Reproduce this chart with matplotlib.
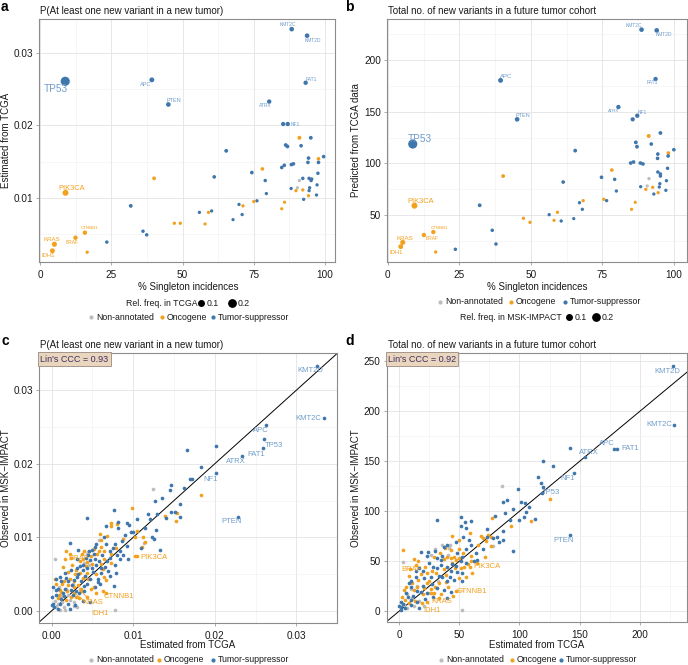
import matplotlib
matplotlib.use('Agg')
import matplotlib.pyplot as plt
from matplotlib.lines import Line2D

plt.rcParams['font.family'] = ['Liberation Sans', 'DejaVu Sans']

# ---------------- data: panel a (x = % singleton, y = P estimated from TCGA) ----------------
a_x = [8.8, 39.2, 45.0, 88.3, 93.7, 93.2, 80.4, 86.9, 85.3, 91.0, 95.0, 65.3, 86.2, 86.8, 91.6,
       94.2, 94.0, 97.7, 97.7, 99.5, 85.7, 84.8, 88.2, 88.9, 78.0, 74.3, 79.0, 61.1, 40.0, 97.5,
       92.2, 94.4, 95.3, 95.1, 91.0, 90.3, 88.1, 92.2, 89.8, 94.6, 94.4, 97.2, 97.0, 94.2, 92.5,
       79.4, 76.1, 75.0, 85.8, 84.8, 69.8, 71.2, 70.9, 67.7, 60.2, 59.1, 55.9, 57.9, 47.1, 49.2,
       31.8, 36.1, 37.4, 23.4, 8.9, 15.7, 12.4, 5.0, 4.3, 16.5]
a_y = [0.0261, 0.0263, 0.0229, 0.0333, 0.0324, 0.0259, 0.0233, 0.0202, 0.0202, 0.0183, 0.0183,
       0.0165, 0.0173, 0.0171, 0.0172, 0.0155, 0.0149, 0.0154, 0.0149, 0.0157, 0.0145, 0.0142,
       0.0146, 0.0147, 0.0140, 0.0135, 0.0124, 0.0129, 0.0127, 0.0134, 0.0127, 0.0127, 0.0126,
       0.0124, 0.0124, 0.0114, 0.0113, 0.0111, 0.0110, 0.0114, 0.0110, 0.0118, 0.0104, 0.0103,
       0.0098, 0.0106, 0.0096, 0.0095, 0.0094, 0.0085, 0.0091, 0.0089, 0.0077, 0.0070, 0.0082,
       0.0080, 0.0080, 0.0064, 0.0065, 0.0065, 0.0089, 0.0054, 0.0049, 0.0039, 0.0107, 0.0052,
       0.0045, 0.0036, 0.0027, 0.0025]
a_type = list("TTTTTTTTTOTTTTTTTOTTTTTTOTTTOTTTTTNNTOOTTTTOTTTOOOTOTTTOTOOOTTTTOOOOOO")
a_freq = [0.33, 0.07, 0.06, 0.06, 0.06, 0.05, 0.05, 0.05, 0.045, 0.035, 0.03, 0.03, 0.03, 0.03,
          0.025, 0.025, 0.025, 0.025, 0.025, 0.025, 0.025, 0.025, 0.025, 0.025, 0.025, 0.025,
          0.02, 0.025, 0.03, 0.02, 0.02, 0.02, 0.02, 0.02, 0.015, 0.012, 0.015, 0.015, 0.015,
          0.015, 0.015, 0.015, 0.015, 0.015, 0.015, 0.015, 0.015, 0.015, 0.012, 0.012, 0.015,
          0.015, 0.015, 0.012, 0.015, 0.015, 0.015, 0.012, 0.015, 0.015, 0.03, 0.02, 0.02, 0.02,
          0.12, 0.05, 0.05, 0.08, 0.07, 0.015]

# ---------------- data: panel b (x = % singleton, y = predicted no. of new variants) ----------------
b_x = [8.7, 39.4, 45.2, 88.7, 94.0, 93.6, 80.6, 87.2, 85.6, 95.3, 91.2, 86.7, 87.1, 92.1, 100.0,
       98.1, 98.0, 94.4, 94.3, 65.5, 85.9, 84.9, 88.3, 89.2, 97.8, 78.3, 74.7, 79.3, 40.3, 61.3,
       94.4, 95.3, 95.3, 91.3, 97.4, 95.1, 90.7, 88.4, 92.6, 94.9, 90.2, 94.5, 93.0, 97.2, 79.9,
       86.5, 85.2, 75.5, 76.5, 67.0, 68.3, 68.0, 65.0, 59.3, 56.4, 60.6, 58.1, 47.4, 49.7, 32.1,
       36.5, 37.8, 23.6, 16.7, 9.3, 15.9, 12.6, 5.2, 4.5]
b_y = [118.7, 180.3, 142.6, 229.4, 228.7, 181.6, 154.5, 146.1, 142.6, 129.4, 126.5, 120.3, 116.1,
       118.7, 113.2, 110.0, 107.1, 109.0, 104.8, 112.3, 101.3, 100.3, 100.3, 99.4, 95.2, 93.5,
       86.5, 84.5, 87.7, 81.9, 91.6, 89.7, 87.7, 85.2, 83.2, 80.3, 78.1, 77.4, 76.8, 77.1, 74.8,
       71.6, 70.3, 73.9, 73.2, 62.3, 55.5, 65.2, 63.9, 61.9, 63.9, 55.5, 46.5, 52.6, 50.3, 44.2,
       44.8, 46.8, 42.9, 59.4, 35.2, 21.9, 16.8, 14.2, 59.0, 33.5, 30.6, 23.5, 19.4]
b_type = list("TTTTTTTTTTOTTTTOTTTTTTTTTOTTOTTTTNTTNTOTOOTTTOOOTTOTTOTTOOOTTTTOOOOOO")
b_freq = [0.33, 0.07, 0.06, 0.06, 0.06, 0.05, 0.05, 0.05, 0.045, 0.03, 0.035, 0.03, 0.03, 0.025,
          0.025, 0.025, 0.025, 0.025, 0.025, 0.03, 0.025, 0.025, 0.025, 0.025, 0.02, 0.025, 0.025,
          0.02, 0.03, 0.025, 0.02, 0.02, 0.02, 0.015, 0.015, 0.015, 0.012, 0.015, 0.015, 0.015,
          0.015, 0.015, 0.015, 0.015, 0.015, 0.012, 0.012, 0.015, 0.015, 0.015, 0.015, 0.015,
          0.012, 0.015, 0.015, 0.015, 0.012, 0.015, 0.015, 0.03, 0.02, 0.02, 0.02, 0.015, 0.12,
          0.05, 0.05, 0.08, 0.07]

# ---------------- data: panel c (estimated from TCGA vs observed in MSK-IMPACT, probability) ----------------
c_tsg = [(0.0325, 0.0333), (0.0334, 0.0262), (0.0263, 0.0252), (0.0260, 0.0233), (0.0259, 0.0221),
         (0.0233, 0.0210), (0.0202, 0.0187), (0.0228, 0.0128), (0.0202, 0.0224), (0.0166, 0.0219),
         (0.0183, 0.0195), (0.0170, 0.0179), (0.0172, 0.0179), (0.0162, 0.0167), (0.0146, 0.0171),
         (0.0145, 0.0164), (0.0135, 0.0154), (0.0127, 0.0150), (0.0157, 0.0145), (0.0151, 0.0135),
         (0.0146, 0.0135), (0.0157, 0.0128), (0.0140, 0.0126), (0.0133, 0.0083), (0.0118, 0.0131),
         (0.0129, 0.0132), (0.0123, 0.0101), (0.0125, 0.0098), (0.0110, 0.0085), (0.0090, 0.0103),
         (0.0093, 0.0120), (0.0095, 0.0117), (0.0097, 0.0107), (0.0100, 0.0107), (0.0082, 0.0121),
         (0.0081, 0.0113), (0.0077, 0.0137), (0.0067, 0.0116), (0.0064, 0.0101), (0.0053, 0.0087),
         (0.0044, 0.0126), (0.0023, 0.0092), (0.0088, 0.0076), (0.0084, 0.0070), (0.0094, 0.0070),
         (0.0080, 0.0076), (0.0078, 0.0091), (0.0075, 0.0085), (0.0084, 0.0082), (0.0078, 0.0062),
         (0.0079, 0.0052), (0.0077, 0.0034), (0.0046, 0.0082), (0.0049, 0.0083), (0.0055, 0.0091),
         (0.0067, 0.0091), (0.0071, 0.0082), (0.0031, 0.0070), (0.0042, 0.0072), (0.0047, 0.0069),
         (0.0053, 0.0071), (0.0058, 0.0068), (0.0068, 0.0068), (0.0031, 0.0058), (0.0035, 0.0061),
         (0.0024, 0.0056), (0.0031, 0.0046), (0.0039, 0.0055), (0.0041, 0.0048), (0.0047, 0.0044),
         (0.0051, 0.0053), (0.0057, 0.0044), (0.0061, 0.0051), (0.0071, 0.0048), (0.0010, 0.0046),
         (0.0016, 0.0051), (0.0027, 0.0042), (0.0002, 0.0033), (0.0017, 0.0030), (0.0024, 0.0029),
         (0.0030, 0.0027), (0.0040, 0.0034), (0.0044, 0.0037), (0.0053, 0.0033), (0.0059, 0.0036),
         (0.0001, 0.0019), (0.0002, 0.0010), (0.0010, 0.0010), (0.0020, 0.0010), (0.0022, 0.0003),
         (0.0005, 0.0021), (0.0000, 0.0008), (0.0003, 0.0005), (0.0008, 0.0002), (0.0029, 0.0008),
         (0.0039, 0.0014), (0.0047, 0.0012), (0.0033, 0.0083), (0.0006, 0.0044), (0.0014, 0.0024),
         (0.0036, 0.0040), (0.0012, 0.0016), (0.0006, 0.0029), (0.0012, 0.0040), (0.0018, 0.0045),
         (0.0025, 0.0035), (0.0033, 0.0050), (0.0038, 0.0062), (0.0043, 0.0058), (0.0050, 0.0058),
         (0.0055, 0.0062), (0.0060, 0.0058), (0.0045, 0.0076), (0.0052, 0.0078), (0.0062, 0.0076),
         (0.0066, 0.0060), (0.0015, 0.0020), (0.0020, 0.0040), (0.0008, 0.0030), (0.0026, 0.0022),
         (0.0034, 0.0024), (0.0040, 0.0027), (0.0057, 0.0039), (0.0069, 0.0054), (0.0072, 0.0072),
         (0.0086, 0.0095), (0.0092, 0.0088), (0.0105, 0.0125), (0.0115, 0.0112), (0.0120, 0.0125),
         (0.0128, 0.0110)]
c_onc = [(0.0183, 0.0157), (0.0154, 0.0133), (0.0153, 0.0122), (0.0139, 0.0129), (0.0114, 0.0094),
         (0.0111, 0.0087), (0.0112, 0.0100), (0.0098, 0.0140), (0.0102, 0.0101), (0.0105, 0.0108),
         (0.0080, 0.0118), (0.0073, 0.0120), (0.0073, 0.0115), (0.0068, 0.0102), (0.0059, 0.0105),
         (0.0060, 0.0096), (0.0016, 0.0071), (0.0102, 0.0075), (0.0105, 0.0074), (0.0079, 0.0086),
         (0.0052, 0.0084), (0.0058, 0.0082), (0.0061, 0.0087), (0.0064, 0.0082), (0.0073, 0.0078),
         (0.0035, 0.0068), (0.0039, 0.0071), (0.0044, 0.0066), (0.0050, 0.0064), (0.0061, 0.0064),
         (0.0064, 0.0071), (0.0073, 0.0065), (0.0020, 0.0053), (0.0029, 0.0050), (0.0035, 0.0051),
         (0.0044, 0.0052), (0.0054, 0.0050), (0.0064, 0.0046), (0.0067, 0.0042), (0.0004, 0.0043),
         (0.0022, 0.0044), (0.0006, 0.0037), (0.0013, 0.0036), (0.0020, 0.0035), (0.0027, 0.0033),
         (0.0033, 0.0035), (0.0036, 0.0030), (0.0048, 0.0030), (0.0063, 0.0027), (0.0067, 0.0024),
         (0.0012, 0.0026), (0.0008, 0.0017), (0.0018, 0.0015), (0.0024, 0.0019), (0.0034, 0.0017),
         (0.0043, 0.0019), (0.0018, 0.0082), (0.0022, 0.0078), (0.0024, 0.0072), (0.0037, 0.0078),
         (0.0040, 0.0082), (0.0014, 0.0060), (0.0052, 0.0032), (0.0036, 0.0027), (0.0027, 0.0025),
         (0.0010, 0.0028), (0.0028, 0.0040), (0.0015, 0.0040), (0.0025, 0.0063), (0.0030, 0.0055),
         (0.0042, 0.0061), (0.0048, 0.0074), (0.0056, 0.0077), (0.0063, 0.0057), (0.0019, 0.0027),
         (0.0030, 0.0019), (0.0009, 0.0022), (0.0045, 0.0043), (0.0055, 0.0025), (0.0038, 0.0045),
         (0.0088, 0.0098)]
c_non = [(0.0124, 0.0166), (0.0113, 0.0092), (0.0058, 0.0097), (0.0004, 0.0070), (0.0078, 0.0001),
         (0.0043, 0.0078), (0.0009, 0.0033), (0.0004, 0.0014), (0.0006, 0.0005), (0.0013, 0.0012),
         (0.0015, 0.0006), (0.0027, 0.0012), (0.0010, 0.0001), (0.0016, 0.0001), (0.0028, 0.0007),
         (0.0020, 0.0022), (0.0011, 0.0020), (0.0031, 0.0005), (0.0046, 0.0062), (0.0018, 0.0030),
         (0.0023, 0.0015), (0.0035, 0.0030), (0.0008, 0.0010), (0.0040, 0.0065), (0.0045, 0.0080),
         (0.0026, 0.0037)]

# ---------------- data: panel d (estimated from TCGA vs observed in MSK-IMPACT, counts) ----------------
d_tsg = [(227.8, 245.7), (228.3, 186), (180.7, 162.3), (178.6, 162.3), (154.4, 154.7), (145.3, 138),
         (118.5, 118), (142, 76), (142, 163), (119.6, 150.7), (128.1, 145.3), (115.7, 134),
         (118.2, 128.7), (119.8, 124.7), (98.8, 122), (89.4, 111.3), (86.1, 109.3), (101, 109.7),
         (104.6, 108), (108, 104.7), (105.7, 99.7), (104, 94), (112.6, 92.3), (99.4, 91.3),
         (92.2, 91), (94.4, 60.7), (86.6, 80), (81.1, 74), (78, 73.3), (82.8, 69.3), (86.6, 71.3),
         (73.3, 74), (59.5, 90.3), (51.8, 94), (54.5, 89), (51.2, 85.3), (55.6, 83), (57.8, 71.3),
         (53.1, 74.7), (47, 69), (40.1, 66), (37.4, 64), (31.3, 91), (24.1, 59), (31.8, 53),
         (34.6, 51.3), (52.6, 54), (51.8, 50.7), (55.4, 48), (62.3, 50.7), (65, 51.3), (28.5, 44.7),
         (31.8, 43), (35.2, 46.3), (40.1, 44), (42.9, 40.7), (48.4, 39.7), (52.6, 38), (45.7, 31.3),
         (42.3, 34), (36, 34.7), (26.8, 34), (20.8, 33), (13.8, 34.7), (16.6, 43), (20.2, 40.7),
         (9.7, 24.7), (18, 19.7), (23.5, 18), (31.8, 23), (37.4, 21.3), (42.9, 19.7), (39.6, 13),
         (8.3, 28), (1.4, 9.7), (1.9, 4.7), (9.7, 11.3), (14.7, 9.7), (16.6, 3), (1.4, 1.3),
         (7.5, 14), (0, 5.3), (27, 27), (12, 15), (5, 3), (3.5, 7), (22, 12), (10, 6), (18, 59),
         (10, 30), (14, 40), (25, 48), (30, 60), (36, 55), (44, 47), (48, 58), (56, 62), (60, 66),
         (64, 58), (70, 62), (73, 82), (80, 95), (88, 98), (95, 102), (20, 25), (6, 18), (15, 20),
         (28, 14), (33, 35), (40, 30), (47, 45), (52, 30), (23, 55)]
d_onc = [(125.7, 112.3), (93, 85.7), (109.9, 90), (71.1, 54.7), (76.1, 74.7), (73.8, 76), (70, 73),
         (67.8, 75.3), (77.5, 93.3), (59, 78), (49.8, 71.3), (44.3, 75.3), (43.5, 61.3), (3.6, 61),
         (12.5, 52), (29.1, 54), (37.4, 52), (40.1, 54), (42.9, 53), (45.7, 54), (47, 51.3),
         (49.8, 53.3), (54, 44), (57.3, 47.3), (59.5, 50), (64.5, 48), (59.2, 44.3), (47, 20.7),
         (26.8, 18), (23.5, 9.7), (37.4, 42), (46.2, 43), (51.2, 43), (55.4, 34.7), (49.8, 33),
         (38.7, 29.7), (33.2, 28), (30.4, 38), (23.5, 38), (18.5, 37.3), (15.8, 31.3), (11.1, 28),
         (12.5, 21.3), (15.2, 24.7), (20.8, 23), (26.3, 22), (29.1, 18.7), (34.6, 17.3),
         (40.7, 24.7), (45.1, 15.3), (33.2, 13), (4.2, 21.3), (2.8, 14.7), (5.5, 24.7), (23, 28),
         (8.3, 8), (19.4, 8), (4.7, 11.3), (9, 42), (14, 46), (25, 30), (8, 35), (16, 50), (22, 44),
         (27, 40), (34, 58), (38, 63), (44, 48), (50, 62), (53, 58), (60, 55), (66, 66), (72, 70),
         (20, 17), (13, 10), (30, 24), (39, 36), (61, 38), (76, 65)]
d_non = [(85.2, 125.7), (3.6, 49), (26.3, 56), (42, 66.7), (41.8, 63), (41, 56.3), (78, 65.3),
         (6.9, 17.3), (4.2, 6.3), (6.4, 3), (12.5, 5.3), (20.8, 5.3), (11.1, 13), (52.6, 1.3),
         (17, 10), (30, 62), (15, 25), (24, 18), (32, 30), (10, 22), (36, 66)]

# gene labels: (text, x, y, fontsize)
a_labels_t = [("KMT2C", 86.8, 0.0339, 3.5), ("KMT2D", 95.7, 0.0318, 3.5), ("FAT1", 95.1, 0.0264, 3.5),
              ("APC", 37.2, 0.0257, 4.1), ("PTEN", 46.8, 0.0235, 4), ("ATRX", 78.9, 0.0227, 3.5),
              ("NF1", 89.5, 0.0202, 3.5), ("TP53", 5.6, 0.0250, 7.2)]
a_labels_o = [("PIK3CA", 11.1, 0.0113, 5.4), ("CTNNB1", 17.3, 0.0058, 3.2), ("KRAS", 4.1, 0.0042, 4.4),
              ("BRAF", 11.1, 0.0039, 3.5), ("IDH1", 2.9, 0.0020, 4.2)]
b_labels_t = [("KMT2C", 86.0, 233.5, 3.5), ("KMT2D", 96.5, 224.8, 3.5), ("FAT1", 92.4, 178.1, 3.5),
              ("APC", 41.3, 184.5, 4.3), ("ATRX", 79.1, 151.0, 3.2), ("NF1", 89.0, 149.0, 3.5),
              ("PTEN", 47.1, 146.5, 4), ("TP53", 11.2, 123.5, 7.2)]
b_labels_o = [("PIK3CA", 11.3, 63.2, 5.4), ("CTNNB1", 18.0, 37.1, 3.2), ("KRAS", 6.0, 27.1, 4.4),
              ("BRAF", 15.3, 26.8, 3.5), ("IDH1", 2.9, 13.9, 4.2)]
c_labels_t = [("KMT2D", 0.0317, 0.0326), ("KMT2C", 0.0315, 0.0261), ("APC", 0.0256, 0.0245),
              ("TP53", 0.0272, 0.0225), ("FAT1", 0.0251, 0.0213), ("ATRX", 0.0226, 0.0203),
              ("NF1", 0.0195, 0.0179), ("PTEN", 0.0221, 0.0121)]
d_labels_t = [("KMT2D", 223, 239.7), ("KMT2C", 215.9, 187), ("APC", 173, 167.7), ("FAT1", 192, 162.3),
              ("ATRX", 157.8, 158.3), ("NF1", 140.3, 132.7), ("TP53", 126.5, 119.3), ("PTEN", 137, 71)]

W, H = 688, 665
fig = plt.figure(figsize=(W / 100, H / 100), dpi=100)

BLUE = '#3f77ad'
ORANGE = '#f2a11f'
GRAY = '#bdbdbd'
LBLUE = '#6f9dcc'
COL = {'T': BLUE, 'O': ORANGE, 'N': GRAY}


def rect(l, t, r, b):
    return [l / W, 1 - b / H, (r - l) / W, (b - t) / H]


def fx(x):
    return x / W


def fy(y):
    return 1 - y / H


def style(ax, xlim, ylim, xt, yt, xminor, yminor, xfmt=None, yfmt=None):
    ax.set_xlim(xlim)
    ax.set_ylim(ylim)
    ax.set_xticks(xt)
    ax.set_yticks(yt)
    if xfmt:
        ax.set_xticklabels([xfmt % v for v in xt])
    if yfmt:
        ax.set_yticklabels([yfmt % v for v in yt])
    ax.set_xticks(xminor, minor=True)
    ax.set_yticks(yminor, minor=True)
    ax.grid(which='major', color='#e3e3e3', lw=0.6)
    ax.grid(which='minor', color='#f0f0f0', lw=0.4)
    ax.set_axisbelow(True)
    for s in ax.spines.values():
        s.set_color('#8c8c8c')
        s.set_linewidth(0.8)
    ax.tick_params(which='major', length=2, width=0.5, color='#8c8c8c', labelsize=7.2,
                   labelcolor='#1a1a1a')
    ax.tick_params(axis='x', pad=4)
    ax.tick_params(axis='y', pad=2.5)
    ax.tick_params(which='minor', length=0)


def fig_legend_colors(y, xs):
    names = ['Non-annotated', 'Oncogene', 'Tumor-suppressor']
    cols = [GRAY, ORANGE, BLUE]
    for (dx, tx), n, c in zip(xs, names, cols):
        fig.add_artist(Line2D([fx(dx)], [fy(y)], marker='o', ms=2, color=c, lw=0,
                              transform=fig.transFigure))
        fig.text(fx(tx), fy(y), n, fontsize=6.3, va='center', ha='left', color='#1a1a1a')


def fig_legend_sizes(y, title, tx, d1, d2):
    fig.text(fx(tx), fy(y), title, fontsize=6.3, va='center', ha='left', color='#1a1a1a')
    for d, v in [(d1, 0.1), (d2, 0.2)]:
        ms = (4 + 120 * v) ** 0.5
        fig.add_artist(Line2D([fx(d)], [fy(y)], marker='o', ms=ms, color='black', lw=0,
                              transform=fig.transFigure))
        fig.text(fx(d + 6), fy(y), "%.1f" % v, fontsize=6.3, va='center', ha='left',
                 color='#1a1a1a')


# ---------------- panel a ----------------
axa = fig.add_axes(rect(39.3, 19, 335, 262))
style(axa, (-0.3, 103.5), (0.00115, 0.0347), [0, 25, 50, 75, 100], [0.01, 0.02, 0.03],
      [12.5, 37.5, 62.5, 87.5], [0.005, 0.015, 0.025], yfmt='%.2f')
axa.scatter(a_x, a_y, s=[4 + 120 * f for f in a_freq], c=[COL[t] for t in a_type], lw=0, zorder=3)
for t, x, y, fs in a_labels_t:
    axa.text(x, y, t, fontsize=fs, color=LBLUE, ha='center', va='center', zorder=4)
for t, x, y, fs in a_labels_o:
    axa.text(x, y, t, fontsize=fs, color=ORANGE, ha='center', va='center', zorder=4)

# ---------------- panel b ----------------
axb = fig.add_axes(rect(387.3, 19, 687.3, 261.7))
style(axb, (-0.2, 104.7), (4.8, 239.7), [0, 25, 50, 75, 100], [50, 100, 150, 200],
      [12.5, 37.5, 62.5, 87.5], [25, 75, 125, 175, 225])
axb.scatter(b_x, b_y, s=[4 + 120 * f for f in b_freq], c=[COL[t] for t in b_type], lw=0, zorder=3)
for t, x, y, fs in b_labels_t:
    axb.text(x, y, t, fontsize=fs, color=LBLUE, ha='center', va='center', zorder=4)
for t, x, y, fs in b_labels_o:
    axb.text(x, y, t, fontsize=fs, color=ORANGE, ha='center', va='center', zorder=4)


def scatter_groups(ax, non, onc, tsg):
    for pts, c in [(non, GRAY), (onc, ORANGE), (tsg, BLUE)]:
        ax.scatter([p[0] for p in pts], [p[1] for p in pts], s=7, c=c, lw=0, zorder=3)


# ---------------- panel c ----------------
axc = fig.add_axes(rect(39.3, 353.3, 337.3, 622.7))
style(axc, (-0.0015, 0.035), (-0.0016, 0.035), [0, 0.01, 0.02, 0.03], [0, 0.01, 0.02, 0.03],
      [0.005, 0.015, 0.025], [0.005, 0.015, 0.025], xfmt='%.2f', yfmt='%.2f')
scatter_groups(axc, c_non, c_onc, c_tsg)
axc.axline((0, 0), slope=1, color='black', lw=0.7, zorder=2)
for t, x, y in c_labels_t:
    axc.text(x, y, t, fontsize=5.5, color=LBLUE, ha='center', va='center', zorder=4)
axc.text(0.0020, 0.0071, "BRAF", fontsize=5.5, color=ORANGE, ha='left', va='center', zorder=4)
axc.text(0.0109, 0.0072, "PIK3CA", fontsize=5.5, color=ORANGE, ha='left', va='center', zorder=4)
for t, px, py, lx, ly in [("CTNNB1", 0.0052, 0.0032, 0.0082, 0.0019),
                          ("KRAS", 0.0036, 0.0027, 0.0050, 0.0011),
                          ("IDH1", 0.0027, 0.0025, 0.0059, -0.0003)]:
    axc.annotate(t, xy=(px, py), xytext=(lx, ly), fontsize=5.5, color=ORANGE, ha='center',
                 va='center', zorder=4,
                 arrowprops=dict(arrowstyle='-', color=ORANGE, lw=0.6, shrinkA=6, shrinkB=1))
axc.text(0.004, 0.995, "Lin's CCC = 0.93", transform=axc.transAxes, fontsize=6.5,
         color='#3b2d66', ha='left', va='top', zorder=5,
         bbox=dict(boxstyle='square,pad=0.25', fc='#ead6bd', ec='#9a8a80', lw=0.6))

# ---------------- panel d ----------------
axd = fig.add_axes(rect(386.7, 353.3, 687.3, 622))
style(axd, (-10.2, 239.4), (-10.7, 258), [0, 50, 100, 150, 200], [0, 50, 100, 150, 200, 250],
      [25, 75, 125, 175, 225], [25, 75, 125, 175, 225])
scatter_groups(axd, d_non, d_onc, d_tsg)
axd.axline((0, 0), slope=1, color='black', lw=0.7, zorder=2)
for t, x, y in d_labels_t:
    axd.text(x, y, t, fontsize=5.5, color=LBLUE, ha='center', va='center', zorder=4)
axd.text(10.5, 42, "BRAF", fontsize=5.5, color=ORANGE, ha='center', va='center', zorder=4)
axd.text(61.7, 44.3, "PIK3CA", fontsize=5.5, color=ORANGE, ha='left', va='center', zorder=4)
for t, px, py, lx, ly in [("CTNNB1", 47, 20.7, 60.5, 19.7),
                          ("KRAS", 26.8, 18, 35.2, 9.7),
                          ("IDH1", 23.5, 9.7, 27, 0.7)]:
    axd.annotate(t, xy=(px, py), xytext=(lx, ly), fontsize=5.5, color=ORANGE, ha='center',
                 va='center', zorder=4,
                 arrowprops=dict(arrowstyle='-', color=ORANGE, lw=0.6, shrinkA=6, shrinkB=1))
axd.text(0.004, 0.995, "Lin's CCC = 0.92", transform=axd.transAxes, fontsize=6.5,
         color='#3b2d66', ha='left', va='top', zorder=5,
         bbox=dict(boxstyle='square,pad=0.25', fc='#ead6bd', ec='#9a8a80', lw=0.6))

# ---------------- titles, letters, axis labels ----------------
tkw = dict(fontsize=7, va='center', ha='left', color='#1a1a1a')
fig.text(fx(40), fy(11), "P(At least one new variant in a new tumor)", **tkw)
fig.text(fx(388), fy(11), "Total no. of new variants in a future tumor cohort", **tkw)
fig.text(fx(40), fy(345), "P(At least one new variant in a new tumor)", **tkw)
fig.text(fx(388), fy(345), "Total no. of new variants in a future tumor cohort", **tkw)
lkw = dict(fontsize=10, fontweight='bold', va='center', ha='left')
fig.text(fx(1), fy(7), "a", **lkw)
fig.text(fx(345), fy(7), "b", **lkw)
fig.text(fx(1), fy(341), "c", **lkw)
fig.text(fx(345), fy(341), "d", **lkw)

xl = dict(fontsize=7, va='center', ha='center', color='#1a1a1a')
fig.text(fx(188), fy(287), "% Singleton incidences", **xl)
fig.text(fx(537), fy(287), "% Singleton incidences", **xl)
fig.text(fx(188), fy(645), "Estimated from TCGA", **xl)
fig.text(fx(537), fy(645), "Estimated from TCGA", **xl)
yl = dict(fontsize=7, va='center', ha='center', rotation=90, color='#1a1a1a')
fig.text(fx(6), fy(140), "Estimated from TCGA", **yl)
fig.text(fx(356), fy(140), "Predicted from TCGA data", **yl)
fig.text(fx(6), fy(488), "Observed in MSK\u2212IMPACT", **yl)
fig.text(fx(356), fy(488), "Observed in MSK\u2212IMPACT", **yl)

# ---------------- legends ----------------
fig_legend_sizes(303, "Rel. freq. in TCGA", 126, 201, 232)
fig_legend_colors(317, [(91, 96), (162, 167), (213, 218)])
fig_legend_colors(302, [(440, 445), (511, 516), (565, 570)])
fig_legend_sizes(317, "Rel. freq. in MSK-IMPACT", 460, 569, 596)
fig_legend_colors(660, [(91, 96), (159, 164), (213, 218)])
fig_legend_colors(660, [(441, 446), (512, 517), (561, 566)])

fig.savefig("out.png", dpi=100)
